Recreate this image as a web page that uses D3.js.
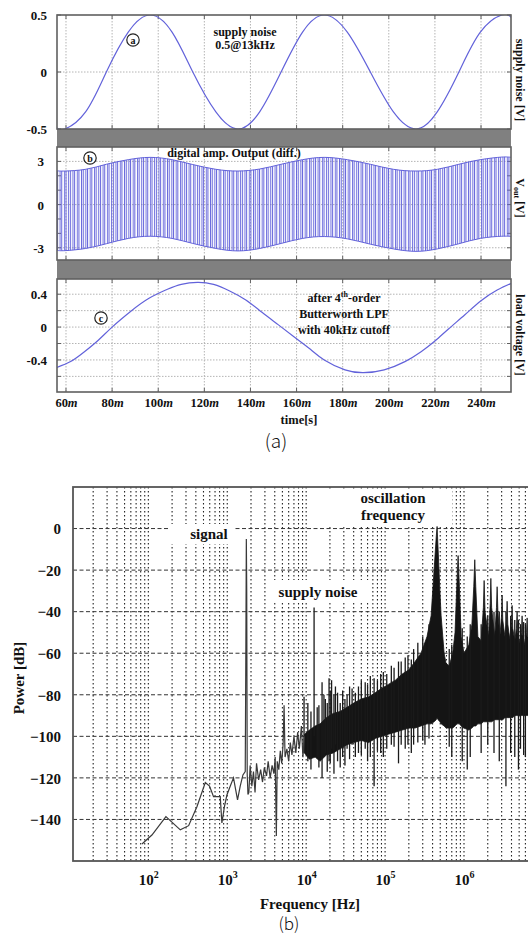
<!DOCTYPE html>
<html>
<head>
<meta charset="utf-8">
<script src="https://cdn.jsdelivr.net/npm/d3@7/dist/d3.min.js"></script>
<style>
  body { margin: 0; background: #fff; }
  svg text { font-family: "Liberation Serif", "DejaVu Serif", serif; font-weight: bold; fill: #111; }
</style>
</head>
<body>
<svg id="chart" width="528" height="936"></svg>
<script>
'use strict';

// ── Data: figure (a), time in ms ──────────────────────────────
const timeTicks = [60, 80, 100, 120, 140, 160, 180, 200, 220, 240];

const noiseT = [56.1, 59.5, 68.5, 77.5, 87, 96.5, 106, 115, 125, 134.6, 144, 153.3,
                162.6, 172, 182, 192, 202, 211.8, 221, 230.4, 239.7, 249, 253];
const noiseV = [-0.49, -0.5, -0.35, 0, 0.35, 0.5, 0.35, 0, -0.35, -0.5, -0.35, 0,
                0.35, 0.5, 0.35, 0, -0.35, -0.5, -0.35, 0, 0.35, 0.5, 0.48];

// envelope of the differential PWM output, same sample times as noiseT
const voutHi = [2.35, 2.33, 2.45, 2.8, 3.12, 3.28, 3.12, 2.78, 2.45, 2.33, 2.47, 2.8,
                3.12, 3.28, 3.12, 2.8, 2.45, 2.33, 2.45, 2.8, 3.12, 3.3, 3.28];
const voutLo = [-3.18, -3.2, -3.05, -2.72, -2.35, -2.2, -2.35, -2.7, -3.05, -3.22, -3.05, -2.7,
                -2.35, -2.22, -2.38, -2.75, -3.08, -3.25, -3.08, -2.72, -2.35, -2.2, -2.22];

const loadT = [56.1, 62, 68, 74, 80, 88, 96, 104, 110, 117, 124, 131, 138, 145, 152,
               159, 166, 172, 181, 189, 198, 207, 214, 220, 226, 233, 240, 247, 253];
const loadV = [-0.49, -0.42, -0.30, -0.16, 0, 0.19, 0.35, 0.46, 0.52, 0.545, 0.52, 0.44, 0.33, 0.18, 0.03,
               -0.12, -0.27, -0.40, -0.52, -0.555, -0.52, -0.42, -0.30, -0.17, -0.02, 0.15, 0.32, 0.45, 0.53];

// ── Data: figure (b), spectrum ────────────────────────────────
const powerTicks = [0, -20, -40, -60, -80, -100, -120, -140];
const decadeExps = [2, 3, 4, 5, 6];

const traceHz = [83, 111, 167, 254, 324, 414, 527, 596, 670, 815,
                 855, 920, 990, 1090, 1200, 1350, 1460, 1580, 1690, 1720,
                 1745, 1765, 1790, 1830, 1880, 1950, 2050, 2150, 2250, 2350,
                 2500, 2650, 2800, 2950, 3150, 3300, 3500, 3700, 3900, 4050,
                 4190, 4300, 4500, 4700, 4900, 5100, 5250, 5400, 5700, 6000,
                 6300, 6600, 7000, 7400, 7800, 8200, 8700, 9100, 9500];
const traceDb = [-151.8, -147.5, -138.6, -145, -143, -133.8, -122.2, -123.9, -129, -129,
                 -141.7, -134, -128.2, -124, -120, -130.6, -124, -118.6, -117, -60,
                 -5, -30, -118, -128, -127, -114, -124, -117, -127, -113,
                 -121, -116, -122, -115, -119, -112, -120, -114, -118, -110,
                 -148, -112, -116, -107, -113, -104, -85, -110, -106, -112,
                 -103, -109, -100, -108, -98, -106, -95, -110, -100];

// dense switching-noise band: upper / lower edge
const bandHz = [9500, 11000, 13000, 15000, 18000, 22000, 27000, 33000, 40000, 50000,
                62000, 75000, 90000, 110000, 135000, 165000, 200000, 240000, 285000, 340000,
                383000, 418000, 445000, 456000, 470000, 495000, 513000, 560000, 593000, 650000,
                720000, 770000, 810000, 842000, 875000, 920000, 1.0e6, 1.15e6, 1.26e6, 1.33e6,
                1.37e6, 1.41e6, 1.5e6, 1.65e6, 1.76e6, 1.8e6, 1.85e6, 2.05e6, 2.15e6, 2.19e6,
                2.24e6, 2.45e6, 2.58e6, 2.63e6, 2.69e6, 2.85e6, 2.99e6, 3.04e6, 3.1e6, 3.3e6,
                3.46e6, 3.52e6, 3.59e6, 3.8e6, 4.0e6, 4.07e6, 4.15e6, 4.4e6, 4.62e6, 4.71e6,
                4.8e6, 5.1e6, 5.35e6, 5.45e6, 5.55e6, 5.9e6, 6.2e6, 6.31e6, 6.43e6, 7.0e6,
                7.9e6];
const bandHi = [-99, -97, -95, -94, -91, -89, -88, -86, -84, -82,
                -81, -79, -77, -75, -73, -70, -68, -64, -60, -52,
                -42, -20, -4, 1, -10, -30, -42, -60, -65, -66,
                -60, -50, -28, -13, -28, -52, -60, -56, -46, -28,
                -15, -28, -52, -54, -38, -25, -40, -52, -36, -24,
                -38, -52, -38, -28, -40, -52, -42, -32, -44, -52,
                -44, -35, -46, -53, -46, -37, -48, -54, -48, -40,
                -50, -55, -50, -42, -51, -56, -50, -43, -52, -54,
                -52];
const bandLo = [-108, -111, -110, -112, -109, -108, -106, -104, -103, -102,
                -103, -101, -100, -99, -98, -97, -96, -96, -95, -94,
                -94, -93, -92, -91, -92, -93, -94, -95, -96, -96,
                -96, -95, -94, -94, -94, -95, -96, -97, -96, -95,
                -95, -95, -94, -94, -93, -93, -93, -93, -93, -93,
                -93, -92, -92, -92, -92, -92, -92, -92, -92, -91,
                -91, -91, -91, -91, -91, -91, -91, -90, -90, -90,
                -90, -90, -90, -90, -90, -90, -90, -90, -90, -90,
                -90];

// individual spectral lines poking out of the band (supply noise tone and others)
const spikeHz = [9400, 10500, 11500, 12600, 13800, 14500, 15900, 16800, 17500, 18500,
                 19500, 20200, 21000, 22500, 23500, 25000, 27000, 29000, 31000, 33000,
                 35500, 38200, 42000, 46000, 50000, 56000, 60000, 65000, 72600, 80000,
                 88000, 95000, 105000, 120000, 130000, 148000, 160000, 180000, 195000, 215000,
                 230000, 260000, 300000, 320000, 360000, 650000, 700000, 950000, 1.1e6, 1.2e6,
                 1.65e6, 2.0e6, 2.4e6, 2.8e6, 3.4e6, 3.9e6, 4.4e6, 4.9e6, 5.2e6, 5.7e6,
                 6.0e6, 6.6e6, 7.4e6];
const spikeHi = [-81, -84, -88, -38, -86, -85, -74, -80, -82, -84,
                 -72, -78, -73, -80, -76, -79, -84, -78, -82, -80,
                 -76, -77, -79, -76, -73, -74, -75, -71, -72, -73,
                 -70, -69, -70, -66, -67, -64, -64, -62, -61, -63,
                 -58, -55, -52, -56, -46, -58, -56, -48, -52, -46,
                 -46, -42, -40, -40, -40, -42, -44, -44, -46, -45,
                 -46, -46, -48];
const spikeLo = [-108, -112, -116, -100, -110, -115, -120, -110, -108, -117,
                 -112, -113, -106, -118, -104, -112, -115, -110, -114, -106,
                 -111, -104, -110, -108, -109, -106, -112, -110, -124, -107,
                 -108, -110, -106, -104, -105, -113, -104, -106, -104, -108,
                 -104, -103, -102, -104, -101, -105, -110, -112, -116, -110,
                 -108, -104, -108, -112, -124, -108, -110, -116, -106, -109,
                 -110, -112, -110];

const COLOR_WAVE  = '#6262da';
const COLOR_FRAME = '#606060';
const COLOR_BAND  = '#808080';
const COLOR_GRID  = '#b4b4b4';

const svg  = d3.select('#chart');
const defs = svg.append('defs');

// ══ Figure (a) ══════════════════════════════════════════════
const A_LEFT = 57, A_RIGHT = 511;
const xT = d3.scaleLinear().domain([56.1, 253]).range([A_LEFT, A_RIGHT]);

const panels = [
  { id: 'p1', top: 15,  bottom: 129, domain: [-0.5, 0.5],
    grid: [0], ticks: [-0.5, 0, 0.5], labels: [0.5, 0, -0.5], labelX: 47 },
  { id: 'p2', top: 147, bottom: 260, domain: [-3.85, 4.0],
    grid: [-3, 0, 3], ticks: [-3, -2, -1, 0, 1, 2, 3], labels: [3, 0, -3], labelX: 44 },
  { id: 'p3', top: 279, bottom: 392, domain: [-0.79, 0.585],
    grid: [-0.6, -0.4, -0.2, 0, 0.2, 0.4], ticks: [-0.6, -0.4, -0.2, 0, 0.2, 0.4],
    labels: [0.4, 0, -0.4], labelX: 47 },
];

// gray separators between panels
svg.append('rect').attr('x', A_LEFT).attr('y', 129).attr('width', A_RIGHT - A_LEFT).attr('height', 18)
  .attr('fill', COLOR_BAND);
svg.append('rect').attr('x', A_LEFT).attr('y', 260).attr('width', A_RIGHT - A_LEFT).attr('height', 19)
  .attr('fill', COLOR_BAND);

// PWM carrier texture
const pat = defs.append('pattern').attr('id', 'pwm')
  .attr('patternUnits', 'userSpaceOnUse')
  .attr('x', A_LEFT).attr('y', 0).attr('width', 4.3).attr('height', 936);
[0.5, 3.1].forEach(px => {
  pat.append('line').attr('x1', px).attr('x2', px).attr('y1', 0).attr('y2', 936)
    .attr('stroke', COLOR_WAVE).attr('stroke-width', 0.95);
});

panels.forEach(p => {
  p.y = d3.scaleLinear().domain(p.domain).range([p.bottom, p.top]);

  defs.append('clipPath').attr('id', 'clip-' + p.id)
    .append('rect').attr('x', A_LEFT).attr('y', p.top)
    .attr('width', A_RIGHT - A_LEFT).attr('height', p.bottom - p.top);

  const g = svg.append('g');

  g.selectAll('line.vg').data(timeTicks).join('line')
    .attr('x1', d => xT(d)).attr('x2', d => xT(d))
    .attr('y1', p.top).attr('y2', p.bottom)
    .attr('stroke', COLOR_GRID).attr('stroke-dasharray', '1.5,1.5');

  g.selectAll('line.hg').data(p.grid).join('line')
    .attr('x1', A_LEFT).attr('x2', A_RIGHT)
    .attr('y1', d => p.y(d)).attr('y2', d => p.y(d))
    .attr('stroke', COLOR_GRID).attr('stroke-dasharray', '1.5,1.5');

  // inward ticks on all four sides
  const tk = g.append('g').attr('stroke', COLOR_FRAME).attr('stroke-width', 1);
  tk.selectAll('line.tb').data(timeTicks).join('line')
    .attr('x1', d => xT(d)).attr('x2', d => xT(d))
    .attr('y1', p.bottom).attr('y2', p.bottom - 4);
  tk.selectAll('line.tt').data(timeTicks).join('line')
    .attr('x1', d => xT(d)).attr('x2', d => xT(d))
    .attr('y1', p.top).attr('y2', p.top + 4);
  tk.selectAll('line.tl').data(p.ticks).join('line')
    .attr('x1', A_LEFT).attr('x2', A_LEFT + 4)
    .attr('y1', d => p.y(d)).attr('y2', d => p.y(d));
  tk.selectAll('line.tr').data(p.ticks).join('line')
    .attr('x1', A_RIGHT).attr('x2', A_RIGHT - 4)
    .attr('y1', d => p.y(d)).attr('y2', d => p.y(d));

  // y tick labels
  const ax = svg.append('g')
    .attr('transform', `translate(${p.labelX},0)`)
    .call(d3.axisLeft(p.y).tickValues(p.labels).tickSize(0).tickPadding(0)
      .tickFormat(d => d === 0 ? '0' : String(d)));
  ax.select('.domain').remove();
  ax.selectAll('text')
    .attr('font-family', null).attr('font-size', 13).attr('dy', '0.35em');
});

const [p1, p2, p3] = panels;

// (a) supply noise
svg.append('path')
  .attr('clip-path', 'url(#clip-p1)')
  .attr('d', d3.line().curve(d3.curveNatural)
    .x((d, i) => xT(noiseT[i])).y(d => p1.y(d))(noiseV))
  .attr('fill', 'none').attr('stroke', COLOR_WAVE).attr('stroke-width', 1.2);

// (b) PWM output between envelopes
const envArea = d3.area().curve(d3.curveNatural)
  .x((d, i) => xT(noiseT[i]))
  .y0((d, i) => p2.y(voutLo[i]))
  .y1((d, i) => p2.y(voutHi[i]));
svg.append('path')
  .attr('clip-path', 'url(#clip-p2)')
  .attr('d', envArea(noiseT))
  .attr('fill', 'url(#pwm)');
[voutHi, voutLo].forEach(env => {
  svg.append('path')
    .attr('clip-path', 'url(#clip-p2)')
    .attr('d', d3.line().curve(d3.curveNatural)
      .x((d, i) => xT(noiseT[i])).y(d => p2.y(d))(env))
    .attr('fill', 'none').attr('stroke', COLOR_WAVE).attr('stroke-width', 1);
});

// (c) load voltage
svg.append('path')
  .attr('clip-path', 'url(#clip-p3)')
  .attr('d', d3.line().curve(d3.curveNatural)
    .x((d, i) => xT(loadT[i])).y(d => p3.y(d))(loadV))
  .attr('fill', 'none').attr('stroke', COLOR_WAVE).attr('stroke-width', 1.2);

// panel frames
panels.forEach(p => {
  svg.append('rect')
    .attr('x', A_LEFT).attr('y', p.top)
    .attr('width', A_RIGHT - A_LEFT).attr('height', p.bottom - p.top)
    .attr('fill', 'none').attr('stroke', COLOR_FRAME).attr('stroke-width', 1.6);
});

// time axis labels
const tAx = svg.append('g')
  .attr('transform', `translate(0,${p3.bottom})`)
  .call(d3.axisBottom(xT).tickValues(timeTicks).tickSize(0).tickPadding(0));
tAx.select('.domain').remove();
tAx.selectAll('text')
  .attr('font-family', null).attr('font-size', 12.5).attr('y', 15).attr('dy', null)
  .text(null)
  .each(function(d) {
    const t = d3.select(this);
    t.append('tspan').text(d);
    t.append('tspan').attr('font-style', 'italic').text('m');
  });

svg.append('text').attr('x', 299).attr('y', 424).attr('text-anchor', 'middle')
  .attr('font-size', 12.5).text('time[s]');

svg.append('text').attr('x', 276).attr('y', 448).attr('text-anchor', 'middle')
  .style('font-family', '"Noto Sans CJK KR", "Noto Sans", sans-serif')
  .style('font-weight', 300).attr('font-size', 19).text('(a)');

// right-hand axis titles
function rightTitle(cy, build) {
  const t = svg.append('text')
    .attr('transform', `translate(520,${cy}) rotate(90)`)
    .attr('text-anchor', 'middle').attr('dominant-baseline', 'central')
    .attr('font-size', 12);
  build(t);
}
rightTitle(80,  t => t.text('supply noise [V]'));
rightTitle(198, t => {
  t.append('tspan').text('V');
  t.append('tspan').attr('font-size', 8).attr('dy', 3).text('out');
  t.append('tspan').attr('dy', -3).text(' [V]');
});
rightTitle(335, t => t.text('load voltage [V]'));

// in-plot notes
function note(x, y, str, size) {
  return svg.append('text').attr('x', x).attr('y', y).attr('text-anchor', 'middle')
    .attr('font-size', size || 12).text(str);
}
note(245, 36, 'supply noise');
note(245, 49, '0.5@13kHz');
note(234, 157, 'digital amp. Output (diff.)');
const n4 = note(344, 302, null);
n4.append('tspan').text('after 4');
n4.append('tspan').attr('font-size', 8).attr('dy', -5).text('th');
n4.append('tspan').attr('dy', 5).text('-order');
note(344, 318, 'Butterworth LPF');
note(344, 334, 'with 40kHz cutoff');

[['a', 133, 40], ['b', 90, 158], ['c', 101, 318]].forEach(([ch, cx, cy]) => {
  svg.append('circle').attr('cx', cx).attr('cy', cy).attr('r', 6.2)
    .attr('fill', '#fff').attr('stroke', '#222').attr('stroke-width', 1.2);
  svg.append('text').attr('x', cx).attr('y', cy).attr('text-anchor', 'middle')
    .attr('dominant-baseline', 'central').attr('font-size', 10).text(ch);
});

// ══ Figure (b) ══════════════════════════════════════════════
const B_LEFT = 73, B_RIGHT = 535, B_TOP = 487, B_BOTTOM = 861;
const fx = d3.scaleLog().domain([11.1, 7.94e6]).range([B_LEFT, B_RIGHT]);
const py = d3.scaleLinear().domain([-160, 20]).range([B_BOTTOM, B_TOP]);

defs.append('clipPath').attr('id', 'clip-b')
  .append('rect').attr('x', B_LEFT).attr('y', B_TOP)
  .attr('width', B_RIGHT - B_LEFT).attr('height', B_BOTTOM - B_TOP);

const gb = svg.append('g');

gb.selectAll('line.fv').data(fx.ticks()).join('line')
  .attr('x1', d => fx(d)).attr('x2', d => fx(d))
  .attr('y1', B_TOP).attr('y2', B_BOTTOM)
  .attr('stroke', '#222').attr('stroke-width', 1.1).attr('stroke-dasharray', '1.5,2.5');

gb.selectAll('line.fh').data(powerTicks).join('line')
  .attr('x1', B_LEFT).attr('x2', B_RIGHT)
  .attr('y1', d => py(d)).attr('y2', d => py(d))
  .attr('stroke', '#333').attr('stroke-width', 1).attr('stroke-dasharray', '4,2.5');

// white label boxes over the grid
[[170, 524, 64, 20], [266, 580, 104, 22], [327, 489, 125, 37]].forEach(([bx, by, bw, bh]) => {
  gb.append('rect').attr('x', bx).attr('y', by).attr('width', bw).attr('height', bh).attr('fill', '#fff');
});

const gd = svg.append('g').attr('clip-path', 'url(#clip-b)');

gd.append('path')
  .attr('d', d3.area()
    .x((d, i) => fx(bandHz[i]))
    .y0((d, i) => py(bandLo[i]))
    .y1((d, i) => py(bandHi[i]))(bandHz))
  .attr('fill', '#141414').attr('stroke', '#141414').attr('stroke-width', 0.8);

gd.selectAll('line.sp').data(spikeHz).join('line')
  .attr('x1', d => fx(d)).attr('x2', d => fx(d))
  .attr('y1', (d, i) => py(spikeHi[i])).attr('y2', (d, i) => py(spikeLo[i]))
  .attr('stroke', '#1a1a1a').attr('stroke-width', 1.3);

gd.append('path')
  .attr('d', d3.line().x((d, i) => fx(traceHz[i])).y(d => py(d))(traceDb))
  .attr('fill', 'none').attr('stroke', '#3a3a3a').attr('stroke-width', 1.2);

svg.append('rect')
  .attr('x', B_LEFT).attr('y', B_TOP)
  .attr('width', B_RIGHT - B_LEFT).attr('height', B_BOTTOM - B_TOP)
  .attr('fill', 'none').attr('stroke', '#555').attr('stroke-width', 1.8);

// axes of (b)
const pAx = svg.append('g').attr('transform', 'translate(61,0)')
  .call(d3.axisLeft(py).tickValues(powerTicks).tickSize(0).tickPadding(0));
pAx.select('.domain').remove();
pAx.selectAll('text').attr('font-family', null).attr('font-size', 15).attr('dy', '0.35em');

const fAx = svg.append('g').attr('transform', `translate(0,${B_BOTTOM})`)
  .call(d3.axisBottom(fx).tickValues(decadeExps.map(e => Math.pow(10, e))).tickSize(0).tickPadding(0));
fAx.select('.domain').remove();
fAx.selectAll('text')
  .attr('font-family', null).attr('font-size', 15).attr('y', 24).attr('dy', null)
  .text(null)
  .each(function(d) {
    const t = d3.select(this);
    t.append('tspan').text('10');
    t.append('tspan').attr('font-size', 10).attr('dy', -7).text(Math.round(Math.log10(d)));
  });

svg.append('text').attr('x', 310).attr('y', 909).attr('text-anchor', 'middle')
  .attr('font-size', 15).text('Frequency [Hz]');
svg.append('text').attr('transform', 'translate(24,678) rotate(-90)').attr('text-anchor', 'middle')
  .attr('font-size', 15).text('Power [dB]');
svg.append('text').attr('x', 289).attr('y', 930).attr('text-anchor', 'middle')
  .style('font-family', '"Noto Sans CJK KR", "Noto Sans", sans-serif')
  .style('font-weight', 300).attr('font-size', 17).text('(b)');

svg.append('text').attr('x', 209).attr('y', 539).attr('text-anchor', 'middle')
  .attr('font-size', 15).text('signal');
svg.append('text').attr('x', 318).attr('y', 597).attr('text-anchor', 'middle')
  .attr('font-size', 15).text('supply noise');
svg.append('text').attr('x', 393).attr('y', 503).attr('text-anchor', 'middle')
  .attr('font-size', 15).text('oscillation');
svg.append('text').attr('x', 393).attr('y', 520).attr('text-anchor', 'middle')
  .attr('font-size', 15).text('frequency');
</script>
</body>
</html>
